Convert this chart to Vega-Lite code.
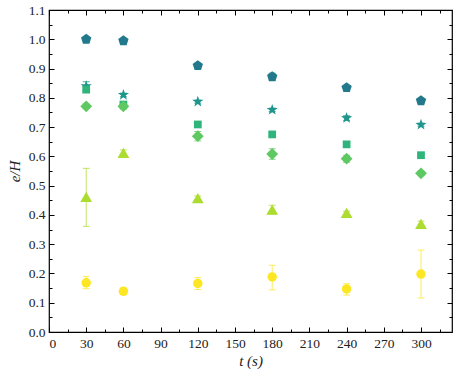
{
  "$schema": "https://vega.github.io/schema/vega-lite/v6.json",
  "autosize": {"type": "none"},
  "padding": {"left": 49, "top": 10, "right": 5, "bottom": 43},
  "width": 403,
  "height": 322,
  "background": "white",
  "config": {
    "view": {"stroke": "#000", "strokeWidth": 1.2},
    "axis": {
      "grid": false,
      "domain": false,
      "tickColor": "#000",
      "tickWidth": 1,
      "labelFont": "Liberation Serif",
      "labelFontSize": 13.5,
      "labelColor": "#222",
      "titleFont": "Liberation Serif",
      "titleFontSize": 15,
      "titleFontWeight": "normal",
      "titleColor": "#222"
    }
  },
  "data": {
    "values": [
      {"t": 30, "v": 1.000, "lo": 0.997, "hi": 1.003, "s": "A"},
      {"t": 60, "v": 0.995, "lo": 0.990, "hi": 1.000, "s": "A"},
      {"t": 120, "v": 0.910, "lo": 0.902, "hi": 0.918, "s": "A"},
      {"t": 180, "v": 0.872, "lo": 0.860, "hi": 0.884, "s": "A"},
      {"t": 240, "v": 0.835, "lo": 0.831, "hi": 0.839, "s": "A"},
      {"t": 300, "v": 0.790, "lo": 0.786, "hi": 0.794, "s": "A"},
      {"t": 30, "v": 0.840, "lo": 0.825, "hi": 0.855, "s": "B"},
      {"t": 60, "v": 0.810, "lo": 0.804, "hi": 0.816, "s": "B"},
      {"t": 120, "v": 0.787, "lo": 0.782, "hi": 0.792, "s": "B"},
      {"t": 180, "v": 0.759, "lo": 0.753, "hi": 0.765, "s": "B"},
      {"t": 240, "v": 0.731, "lo": 0.723, "hi": 0.739, "s": "B"},
      {"t": 300, "v": 0.708, "lo": 0.703, "hi": 0.713, "s": "B"},
      {"t": 30, "v": 0.828, "lo": 0.818, "hi": 0.838, "s": "C"},
      {"t": 60, "v": 0.777, "lo": 0.767, "hi": 0.787, "s": "C"},
      {"t": 120, "v": 0.709, "lo": 0.704, "hi": 0.714, "s": "C"},
      {"t": 180, "v": 0.675, "lo": 0.670, "hi": 0.680, "s": "C"},
      {"t": 240, "v": 0.641, "lo": 0.636, "hi": 0.646, "s": "C"},
      {"t": 300, "v": 0.604, "lo": 0.599, "hi": 0.609, "s": "C"},
      {"t": 30, "v": 0.771, "lo": 0.763, "hi": 0.779, "s": "D"},
      {"t": 60, "v": 0.771, "lo": 0.761, "hi": 0.781, "s": "D"},
      {"t": 120, "v": 0.669, "lo": 0.653, "hi": 0.685, "s": "D"},
      {"t": 180, "v": 0.608, "lo": 0.590, "hi": 0.626, "s": "D"},
      {"t": 240, "v": 0.592, "lo": 0.580, "hi": 0.604, "s": "D"},
      {"t": 300, "v": 0.542, "lo": 0.534, "hi": 0.550, "s": "D"},
      {"t": 30, "v": 0.462, "lo": 0.361, "hi": 0.559, "s": "E"},
      {"t": 60, "v": 0.612, "lo": 0.602, "hi": 0.622, "s": "E"},
      {"t": 120, "v": 0.457, "lo": 0.449, "hi": 0.465, "s": "E"},
      {"t": 180, "v": 0.418, "lo": 0.403, "hi": 0.433, "s": "E"},
      {"t": 240, "v": 0.407, "lo": 0.401, "hi": 0.413, "s": "E"},
      {"t": 300, "v": 0.369, "lo": 0.359, "hi": 0.379, "s": "E"},
      {"t": 30, "v": 0.168, "lo": 0.148, "hi": 0.190, "s": "F"},
      {"t": 60, "v": 0.139, "lo": 0.128, "hi": 0.150, "s": "F"},
      {"t": 120, "v": 0.166, "lo": 0.145, "hi": 0.186, "s": "F"},
      {"t": 180, "v": 0.188, "lo": 0.144, "hi": 0.228, "s": "F"},
      {"t": 240, "v": 0.147, "lo": 0.126, "hi": 0.165, "s": "F"},
      {"t": 300, "v": 0.198, "lo": 0.116, "hi": 0.280, "s": "F"}
    ]
  },
  "resolve": {"axis": {"x": "independent", "y": "independent"}},
  "layer": [
    {
      "mark": {"type": "rule", "strokeWidth": 1, "opacity": 0.75},
      "encoding": {
        "x": {"field": "t", "type": "quantitative", "scale": {"domain": [0, 325], "nice": false, "zero": false},
              "axis": {"orient": "bottom", "values": [15, 45, 75, 105, 135, 165, 195, 225, 255, 285, 315], "tickSize": -3, "labels": false, "title": null}},
        "y": {"field": "lo", "type": "quantitative", "scale": {"domain": [0, 1.1], "nice": false, "zero": false},
              "axis": {"orient": "left", "values": [0.05, 0.15, 0.25, 0.35, 0.45, 0.55, 0.65, 0.75, 0.85, 0.95, 1.05], "tickSize": -3, "labels": false, "title": null}},
        "y2": {"field": "hi"},
        "color": {"field": "s", "type": "nominal", "legend": null,
                  "scale": {"domain": ["A", "B", "C", "D", "E", "F"], "range": ["#22798c", "#1f968b", "#2fb47b", "#5ec962", "#addc30", "#fde725"]}}
      }
    },
    {
      "mark": {"type": "tick", "orient": "horizontal", "size": 7, "thickness": 1, "opacity": 0.75},
      "encoding": {
        "x": {"field": "t", "type": "quantitative",
              "axis": {"orient": "top", "values": [0, 30, 60, 90, 120, 150, 180, 210, 240, 270, 300], "tickSize": -5, "labels": false, "title": null}},
        "y": {"field": "hi", "type": "quantitative",
              "axis": {"orient": "right", "values": [0, 0.1, 0.2, 0.3, 0.4, 0.5, 0.6, 0.7, 0.8, 0.9, 1.0, 1.1], "tickSize": -5, "labels": false, "title": null}},
        "color": {"field": "s", "type": "nominal", "legend": null}
      }
    },
    {
      "mark": {"type": "tick", "orient": "horizontal", "size": 7, "thickness": 1, "opacity": 0.75},
      "encoding": {
        "x": {"field": "t", "type": "quantitative",
              "axis": {"orient": "top", "values": [15, 45, 75, 105, 135, 165, 195, 225, 255, 285, 315], "tickSize": -3, "labels": false, "title": null}},
        "y": {"field": "lo", "type": "quantitative",
              "axis": {"orient": "right", "values": [0.05, 0.15, 0.25, 0.35, 0.45, 0.55, 0.65, 0.75, 0.85, 0.95, 1.05], "tickSize": -3, "labels": false, "title": null}},
        "color": {"field": "s", "type": "nominal", "legend": null}
      }
    },
    {
      "mark": {"type": "point", "filled": true, "opacity": 1},
      "encoding": {
        "x": {"field": "t", "type": "quantitative",
              "axis": {"orient": "bottom", "values": [0, 30, 60, 90, 120, 150, 180, 210, 240, 270, 300], "tickSize": -5, "labelPadding": 9, "title": "t (s)", "titleFontStyle": "italic", "titlePadding": 4}},
        "y": {"field": "v", "type": "quantitative",
              "axis": {"orient": "left", "values": [0, 0.1, 0.2, 0.3, 0.4, 0.5, 0.6, 0.7, 0.8, 0.9, 1.0, 1.1], "format": ".1f", "tickSize": -5, "labelPadding": 9, "title": "e/H", "titleFontStyle": "italic", "titlePadding": 6}},
        "color": {"field": "s", "type": "nominal", "legend": null},
        "size": {"field": "s", "type": "nominal", "legend": null,
                 "scale": {"type": "ordinal", "domain": ["A", "B", "C", "D", "E", "F"], "range": [118, 140, 60, 140, 140, 90]}},
        "shape": {"field": "s", "type": "nominal", "legend": null,
                  "scale": {"domain": ["A", "B", "C", "D", "E", "F"],
                            "range": [
                              "M0,-1L0.951,-0.309L0.588,0.809L-0.588,0.809L-0.951,-0.309Z",
                              "M0,-1L0.235,-0.324L0.951,-0.309L0.38,0.124L0.588,0.809L0,0.4L-0.588,0.809L-0.38,0.124L-0.951,-0.309L-0.235,-0.324Z",
                              "square",
                              "diamond",
                              "triangle-up",
                              "circle"
                            ]}}
      }
    }
  ]
}
